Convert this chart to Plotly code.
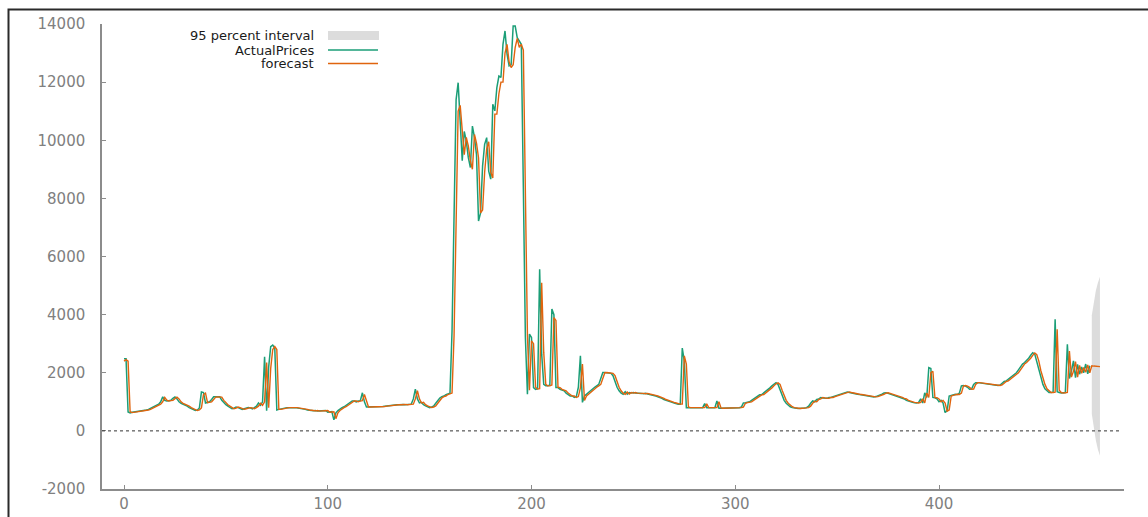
import plotly.graph_objects as go

# ---------------- data ----------------
actual_prices = [
    2480, 2480, 650, 620, 640, 650, 660, 660, 670, 680,
    700, 720, 740, 780, 800, 850, 880, 920, 1000, 1170,
    1050, 1030, 1040, 1050, 1120, 1170, 1100, 1000, 950, 920,
    880, 850, 800, 760, 720, 700, 720, 790, 1340, 1320,
    960, 980, 1000, 1080, 1170, 1170, 1160, 1170, 1050, 960,
    900, 850, 800, 760, 780, 820, 800, 760, 740, 760,
    780, 800, 790, 760, 800, 850, 960, 880, 1000, 2550,
    690, 2200, 2900, 2950, 2850, 720, 740, 760, 780, 790,
    800, 800, 790, 800, 800, 790, 780, 780, 760, 740,
    720, 720, 700, 690, 700, 680, 690, 700, 690, 700,
    640, 650, 660, 380, 620, 700, 760, 800, 830, 880,
    960, 1000, 1030, 1030, 1000, 1030, 1040, 1310, 1000, 820,
    820, 820, 820, 830, 830, 830, 830, 840, 850, 860,
    880, 880, 890, 900, 900, 900, 910, 910, 900, 900,
    910, 920, 1100, 1440, 1100, 960, 980, 900, 860, 820,
    800, 820, 860, 950, 1050, 1130, 1180, 1200, 1250, 1270,
    1300, 3440, 7980, 11400, 11980, 10400, 9300, 10300, 9970, 9400,
    9060, 10490, 10100, 9500, 7220, 7500, 9120, 9860, 10090, 8940,
    8660, 11240, 11010, 11810, 12210, 12160, 13300, 13760, 12960, 12560,
    12600, 13930, 13930, 13530, 13400, 13300, 8370, 3210, 1260, 3330,
    3210, 1490, 1430, 1450, 5560, 2640, 1600, 1550, 1550, 1580,
    4190, 4000, 1490, 1490, 1430, 1400, 1380, 1300, 1260, 1200,
    1200, 1150, 1180, 1500, 2580, 980, 1200, 1260, 1350, 1400,
    1450, 1500, 1550, 1600, 1800, 2010, 2010, 2000, 1990, 1980,
    1900, 1700, 1500, 1380, 1300, 1260, 1350, 1260, 1320, 1300,
    1320, 1300, 1300, 1310, 1290, 1280, 1290, 1270, 1260, 1250,
    1220, 1200, 1180, 1150, 1120, 1080, 1050, 1020, 990, 980,
    960, 930, 920, 920, 2850, 2400, 800, 800, 800, 800,
    800, 800, 810, 810, 800, 940, 800, 800, 800, 800,
    800, 1030, 780, 780, 780, 780, 780, 780, 790, 790,
    790, 790, 800, 820, 960, 970, 980, 1000, 1050, 1100,
    1150, 1200, 1240, 1250, 1300, 1350, 1420, 1480, 1550, 1620,
    1660, 1600, 1400, 1200, 1050, 950, 880, 830, 800, 780,
    780, 770, 770, 780, 790, 800, 850, 950, 1030, 1000,
    1080, 1100, 1150, 1130, 1120, 1120, 1150, 1150, 1180, 1200,
    1230, 1250, 1280, 1300, 1320, 1340, 1320, 1300, 1280, 1270,
    1260, 1250, 1240, 1230, 1220, 1200, 1180, 1170, 1170, 1180,
    1200, 1220, 1260, 1300, 1310, 1290, 1270, 1250, 1230, 1200,
    1180, 1150, 1120, 1100, 1050, 1020, 1000, 980, 970, 960,
    980, 1100, 960, 1310, 1150, 2180, 2150, 1150, 1140, 1100,
    1000, 1050, 960, 630, 700, 1200, 1220, 1240, 1260, 1250,
    1300, 1550, 1560, 1540, 1500, 1430, 1440, 1600, 1660, 1660,
    1650, 1620, 1610, 1600, 1590, 1580, 1570, 1560, 1560, 1560,
    1580, 1650, 1700, 1720, 1780, 1850, 1890, 1950, 2000, 2100,
    2200, 2300, 2350, 2410, 2500, 2600, 2690, 2640, 2400, 2070,
    1830, 1600, 1450, 1380, 1320, 1320, 1330, 3840, 1350, 1320,
    1300, 1310, 1320, 2980, 1800, 2060, 2410, 1830, 2290, 1950,
    2200, 2000, 2300, 1960, 2240,
]

forecast = [
    2400, 2450, 2400, 660, 630, 640, 650, 660, 660, 670,
    680, 700, 720, 740, 780, 800, 850, 880, 920, 1000,
    1150, 1060, 1030, 1040, 1050, 1110, 1160, 1100, 1000, 950,
    920, 880, 850, 800, 760, 720, 700, 720, 790, 1250,
    1300, 970, 980, 1000, 1080, 1160, 1170, 1160, 1160, 1050,
    960, 900, 850, 800, 760, 780, 820, 800, 760, 740,
    760, 780, 800, 790, 760, 800, 850, 950, 880, 1000,
    2350, 800, 2150, 2800, 2900, 2800, 740, 740, 760, 780,
    790, 800, 800, 790, 800, 800, 790, 780, 780, 760,
    740, 720, 720, 700, 690, 700, 680, 690, 700, 690,
    700, 640, 650, 660, 420, 620, 700, 760, 800, 830,
    880, 960, 1000, 1030, 1030, 1000, 1030, 1040, 1250, 1000,
    820, 820, 820, 820, 830, 830, 830, 830, 840, 850,
    860, 880, 880, 890, 900, 900, 900, 910, 910, 900,
    900, 910, 920, 1100, 1380, 1100, 960, 980, 900, 860,
    820, 800, 820, 860, 950, 1050, 1130, 1180, 1200, 1250,
    1270, 1300, 3300, 7800, 11000, 11200, 10200, 9500, 10100, 9800,
    9300, 9000, 10200, 9900, 9400, 7500, 7600, 8900, 9700, 9950,
    8900, 8700, 10900, 10900, 11600, 12000, 12000, 13000, 13300, 12700,
    12500, 12600, 13200, 13500, 13200, 13300, 13100, 8500, 3300, 1400,
    3100, 3000, 1500, 1440, 1450, 5100, 2700, 1600, 1550, 1550,
    1580, 3900, 3800, 1500, 1490, 1430, 1400, 1380, 1300, 1260,
    1200, 1200, 1150, 1180, 1480, 2300, 1050, 1200, 1260, 1350,
    1400, 1450, 1500, 1550, 1600, 1800, 2000, 2010, 2000, 1990,
    1980, 1900, 1700, 1500, 1380, 1300, 1260, 1340, 1270, 1320,
    1300, 1320, 1300, 1300, 1310, 1290, 1280, 1290, 1270, 1260,
    1250, 1220, 1200, 1180, 1150, 1120, 1080, 1050, 1020, 990,
    980, 960, 930, 920, 920, 2580, 2300, 820, 800, 800,
    800, 800, 800, 810, 810, 800, 930, 800, 800, 800,
    800, 800, 1000, 790, 780, 780, 780, 780, 780, 790,
    790, 790, 790, 800, 820, 950, 970, 980, 1000, 1050,
    1100, 1150, 1200, 1240, 1250, 1300, 1350, 1420, 1480, 1550,
    1620, 1650, 1600, 1400, 1200, 1050, 950, 880, 830, 800,
    780, 780, 770, 770, 780, 790, 800, 850, 950, 1020,
    1000, 1080, 1100, 1150, 1130, 1120, 1120, 1150, 1150, 1180,
    1200, 1230, 1250, 1280, 1300, 1320, 1340, 1320, 1300, 1280,
    1270, 1260, 1250, 1240, 1230, 1220, 1200, 1180, 1170, 1170,
    1180, 1200, 1220, 1260, 1300, 1310, 1290, 1270, 1250, 1230,
    1200, 1180, 1150, 1120, 1100, 1050, 1020, 1000, 980, 970,
    960, 980, 1100, 960, 1300, 1150, 2000, 2050, 1150, 1140,
    1100, 1000, 1050, 960, 680, 720, 1200, 1220, 1240, 1260,
    1250, 1300, 1540, 1560, 1540, 1500, 1430, 1440, 1600, 1660,
    1660, 1650, 1620, 1610, 1600, 1590, 1580, 1570, 1560, 1560,
    1560, 1580, 1650, 1700, 1720, 1780, 1850, 1890, 1950, 2000,
    2100, 2200, 2300, 2350, 2410, 2500, 2600, 2680, 2620, 2400,
    2070, 1830, 1600, 1450, 1380, 1320, 1320, 1330, 3500, 1400,
    1320, 1300, 1310, 1320, 2750, 1850, 2050, 2380, 1850, 2250,
    1980, 2180, 2020, 2270, 2000,
    2240, 2230, 2220, 2220, 2210,
]

interval_x = [475, 476, 477, 478, 479]
interval_lower = [580, 60, -330, -640, -860]
interval_upper = [3980, 4470, 4830, 5100, 5300]

y_tick_values = [-2000, 0, 2000, 4000, 6000, 8000, 10000, 12000, 14000]
y_tick_labels = ["-2000", "0", "2000", "4000", "6000", "8000", "10000", "12000", "14000"]
x_tick_values = [0, 100, 200, 300, 400]
x_tick_labels = ["0", "100", "200", "300", "400"]

legend_labels = ["95 percent interval", "ActualPrices", "forecast"]

# ---------------- figure ----------------
W, H = 1148, 517
L, T = 102, 24            # plot area left/top (page pixels)
PR, PB = 1124, 489        # plot area right/bottom (page pixels)
R, B = W - PR, H - PB
PW, PH = PR - L, PB - T


def px(xp):
    """page pixel x -> paper coordinate"""
    return (xp - L) / PW


def py(yp):
    """page pixel y -> paper coordinate"""
    return (PB - yp) / PH


GREEN = "#1b9e77"
ORANGE = "#e0640e"
BAND = "#dcdcdc"
FONT = "DejaVu Sans"

fig = go.Figure()

fig.add_trace(go.Scatter(x=interval_x, y=interval_lower, mode="lines",
                         line=dict(width=0, color=BAND), showlegend=False,
                         hoverinfo="skip"))
fig.add_trace(go.Scatter(x=interval_x, y=interval_upper, mode="lines",
                         line=dict(width=0, color=BAND), fill="tonexty",
                         fillcolor=BAND, showlegend=False, name=legend_labels[0]))

fig.add_trace(go.Scatter(x=list(range(len(actual_prices))), y=actual_prices,
                         mode="lines", line=dict(color=GREEN, width=1.5),
                         name=legend_labels[1], showlegend=False))
fig.add_trace(go.Scatter(x=list(range(len(forecast))), y=forecast,
                         mode="lines", line=dict(color=ORANGE, width=1.4),
                         name=legend_labels[2], showlegend=False))

shapes = []
# zero line (dotted)
shapes.append(dict(type="line", xref="paper", yref="y", x0=0, x1=0.998, y0=0, y1=0,
                   line=dict(color="#333333", width=1, dash="dot")))
# outer frame
shapes.append(dict(type="rect", xref="paper", yref="paper",
                   x0=px(8.5), x1=px(1160), y0=py(530), y1=py(9.5),
                   line=dict(color="#2a2a2a", width=2), layer="above"))
# legend keys
shapes.append(dict(type="rect", xref="paper", yref="paper",
                   x0=px(328), x1=px(379), y0=py(40), y1=py(31),
                   fillcolor=BAND, line=dict(width=0)))
shapes.append(dict(type="line", xref="paper", yref="paper",
                   x0=px(328), x1=px(378), y0=py(50), y1=py(50),
                   line=dict(color=GREEN, width=1.5)))
shapes.append(dict(type="line", xref="paper", yref="paper",
                   x0=px(328), x1=px(378), y0=py(63.5), y1=py(63.5),
                   line=dict(color=ORANGE, width=1.5)))

annotations = []
for lab, yc in zip(legend_labels, [36, 50, 63.5]):
    annotations.append(dict(text=lab, xref="paper", yref="paper", x=px(316), y=py(yc),
                            xanchor="right", yanchor="middle", showarrow=False,
                            font=dict(family=FONT, size=13, color="#1a1a1a")))

fig.update_layout(
    width=W, height=H, autosize=False,
    margin=dict(l=L, r=R, t=T, b=B, pad=0, autoexpand=False),
    paper_bgcolor="white", plot_bgcolor="white",
    showlegend=False,
    shapes=shapes, annotations=annotations,
    font=dict(family=FONT, size=15, color="#808080"),
)
fig.update_xaxes(range=[-10.8, 490.8], tickmode="array", tickvals=x_tick_values,
                 ticktext=x_tick_labels, ticks="inside", ticklen=4, tickcolor="#8c8c8c",
                 showline=True, linecolor="#8c8c8c", linewidth=1.5, showgrid=False,
                 zeroline=False, automargin=False,
                 tickfont=dict(family=FONT, size=15, color="#808080"))
fig.update_yaxes(range=[-2000, 14000], tickmode="array", tickvals=y_tick_values,
                 ticktext=y_tick_labels, ticks="inside", ticklen=4, tickcolor="#8c8c8c",
                 showline=True, linecolor="#8c8c8c", linewidth=1.5, showgrid=False,
                 zeroline=False, automargin=False, ticklabelstandoff=12,
                 tickfont=dict(family=FONT, size=15, color="#808080"))

# remove the default 8px page margin so the figure sits at the window origin
fig.write_html("out.html",
               config={"displayModeBar": False},
               post_script="document.body.style.margin='0';"
                           "document.body.style.overflow='hidden';")
